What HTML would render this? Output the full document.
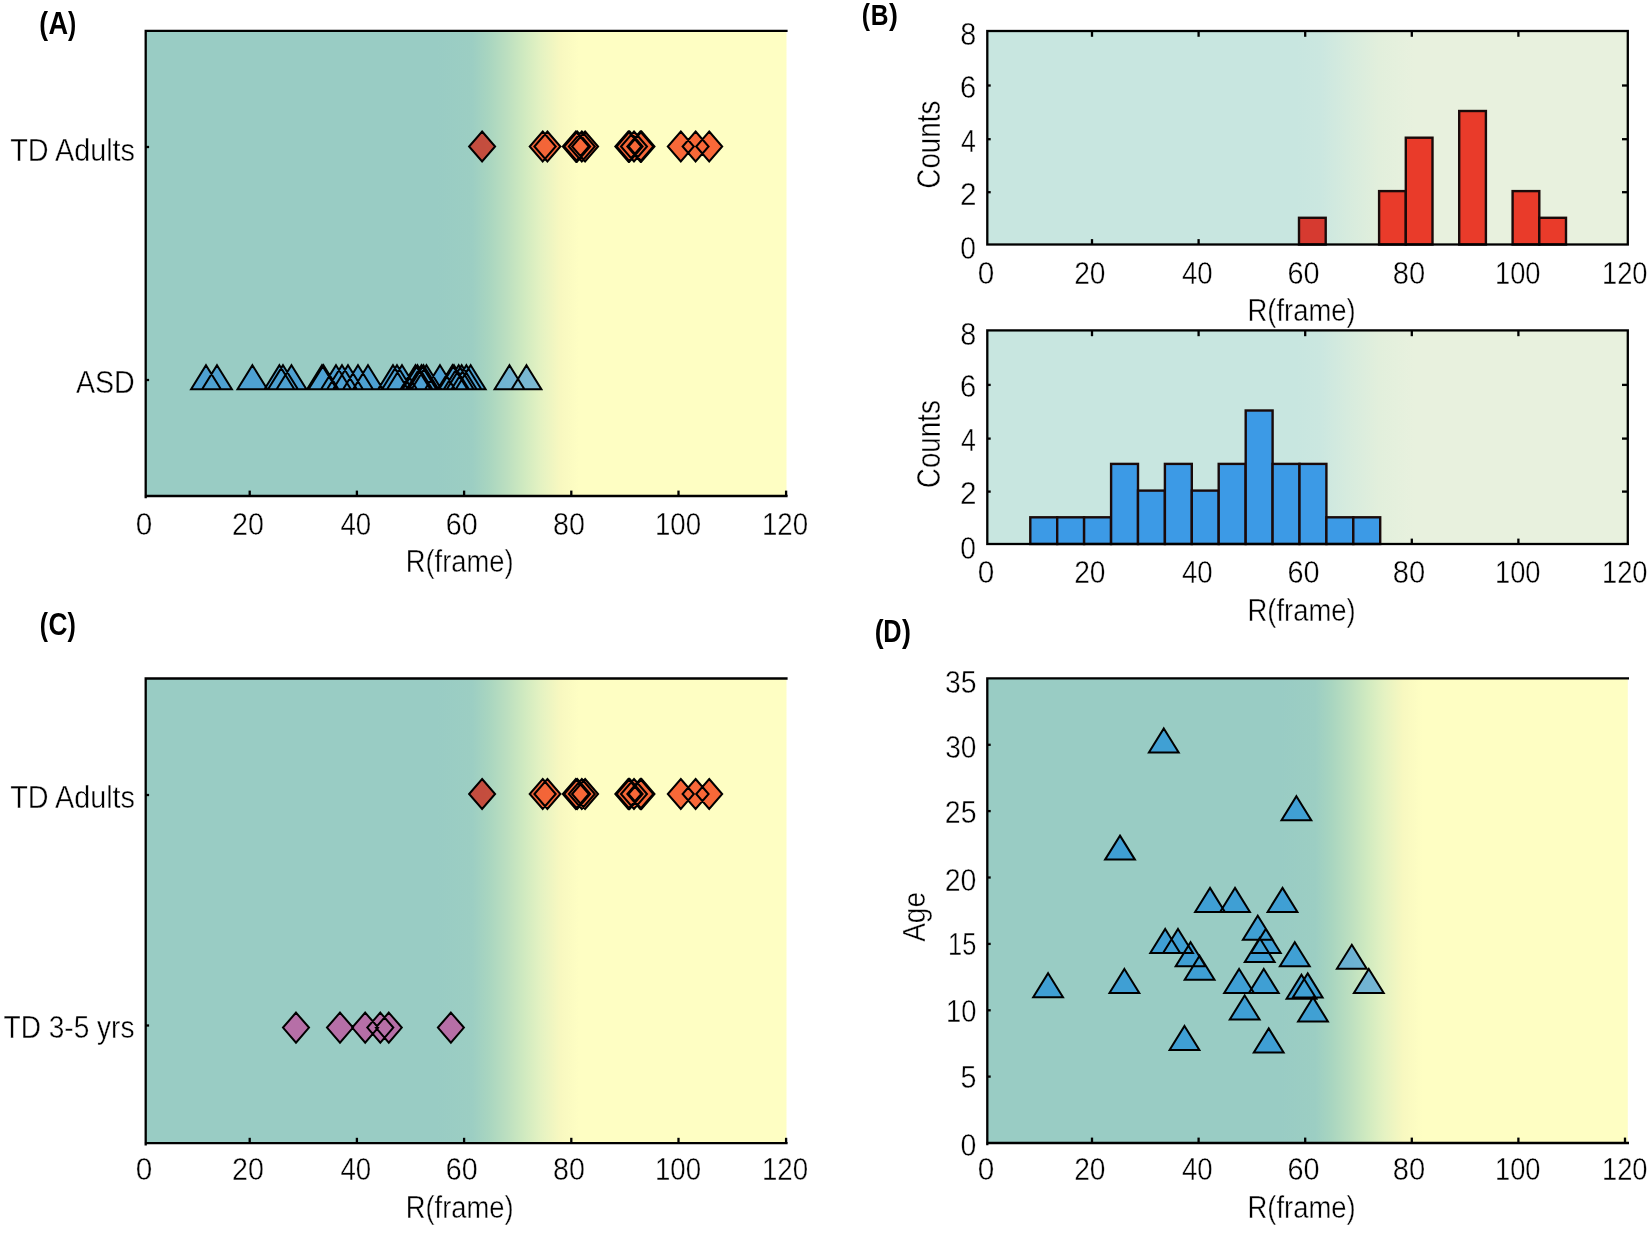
<!DOCTYPE html>
<html lang="en"><head><meta charset="utf-8"><title>Figure</title>
<style>
html,body{margin:0;padding:0;background:#fff;}
body{width:1650px;height:1233px;overflow:hidden;}
svg{display:block;filter:blur(0.4px);}
</style></head>
<body>
<svg width="1650" height="1233" viewBox="0 0 1650 1233">
<rect width="1650" height="1233" fill="#fff"/>
<defs>
<linearGradient id="gA" x1="0" y1="0" x2="1" y2="0"><stop offset="0.4551" stop-color="#99ccc4"/><stop offset="0.5094" stop-color="#9ccec3"/><stop offset="0.5345" stop-color="#a8d5c0"/><stop offset="0.5638" stop-color="#bcdfc0"/><stop offset="0.5906" stop-color="#d0eac0"/><stop offset="0.6165" stop-color="#e4f2c2"/><stop offset="0.6474" stop-color="#f8f8c0"/><stop offset="0.6767" stop-color="#fefec3"/></linearGradient>
<linearGradient id="gB" x1="0" y1="0" x2="1" y2="0"><stop offset="0.4824" stop-color="#c8e6e0"/><stop offset="0.5201" stop-color="#cbe7e0"/><stop offset="0.5619" stop-color="#d6ebde"/><stop offset="0.6121" stop-color="#e2efdc"/><stop offset="0.6665" stop-color="#e8f1de"/></linearGradient>
<linearGradient id="gD" x1="0" y1="0" x2="1" y2="0"><stop offset="0.4573" stop-color="#99ccc4"/><stop offset="0.5117" stop-color="#9ccec3"/><stop offset="0.5368" stop-color="#a8d5c0"/><stop offset="0.5661" stop-color="#bcdfc0"/><stop offset="0.5929" stop-color="#d0eac0"/><stop offset="0.6188" stop-color="#e4f2c2"/><stop offset="0.6498" stop-color="#f8f8c0"/><stop offset="0.6791" stop-color="#fefec3"/></linearGradient>
</defs>
<rect x="145.7" y="30.8" width="640.8" height="465.2" fill="url(#gA)"/>
<g stroke="none" opacity="0.78"><path d="M482.1,131.5 L495.1,146.5 L482.1,161.5 L469.1,146.5 Z" fill="#cd2819"/><path d="M542.7,131.5 L555.7,146.5 L542.7,161.5 L529.7,146.5 Z" fill="#f73e12"/><path d="M547.4,131.5 L560.4,146.5 L547.4,161.5 L534.4,146.5 Z" fill="#f73e12"/><path d="M575.8,131.5 L588.8,146.5 L575.8,161.5 L562.8,146.5 Z" fill="#f73e12"/><path d="M577.2,131.5 L590.2,146.5 L577.2,161.5 L564.2,146.5 Z" fill="#f73e12"/><path d="M581.8,131.5 L594.8,146.5 L581.8,161.5 L568.8,146.5 Z" fill="#f73e12"/><path d="M585.1,131.5 L598.1,146.5 L585.1,161.5 L572.1,146.5 Z" fill="#f73e12"/><path d="M628.3,131.5 L641.3,146.5 L628.3,161.5 L615.3,146.5 Z" fill="#f73e12"/><path d="M629.6,131.5 L642.6,146.5 L629.6,161.5 L616.6,146.5 Z" fill="#f73e12"/><path d="M634.0,131.5 L647.0,146.5 L634.0,161.5 L621.0,146.5 Z" fill="#f73e12"/><path d="M640.3,131.5 L653.3,146.5 L640.3,161.5 L627.3,146.5 Z" fill="#f73e12"/><path d="M641.5,131.5 L654.5,146.5 L641.5,161.5 L628.5,146.5 Z" fill="#f73e12"/><path d="M680.8,131.5 L693.8,146.5 L680.8,161.5 L667.8,146.5 Z" fill="#f73e12"/><path d="M695.6,131.5 L708.6,146.5 L695.6,161.5 L682.6,146.5 Z" fill="#f73e12"/><path d="M709.2,131.5 L722.2,146.5 L709.2,161.5 L696.2,146.5 Z" fill="#f73e12"/></g><path d="M482.1,131.5 L495.1,146.5 L482.1,161.5 L469.1,146.5 Z M542.7,131.5 L555.7,146.5 L542.7,161.5 L529.7,146.5 Z M547.4,131.5 L560.4,146.5 L547.4,161.5 L534.4,146.5 Z M575.8,131.5 L588.8,146.5 L575.8,161.5 L562.8,146.5 Z M577.2,131.5 L590.2,146.5 L577.2,161.5 L564.2,146.5 Z M581.8,131.5 L594.8,146.5 L581.8,161.5 L568.8,146.5 Z M585.1,131.5 L598.1,146.5 L585.1,161.5 L572.1,146.5 Z M628.3,131.5 L641.3,146.5 L628.3,161.5 L615.3,146.5 Z M629.6,131.5 L642.6,146.5 L629.6,161.5 L616.6,146.5 Z M634.0,131.5 L647.0,146.5 L634.0,161.5 L621.0,146.5 Z M640.3,131.5 L653.3,146.5 L640.3,161.5 L627.3,146.5 Z M641.5,131.5 L654.5,146.5 L641.5,161.5 L628.5,146.5 Z M680.8,131.5 L693.8,146.5 L680.8,161.5 L667.8,146.5 Z M695.6,131.5 L708.6,146.5 L695.6,161.5 L682.6,146.5 Z M709.2,131.5 L722.2,146.5 L709.2,161.5 L696.2,146.5 Z" fill="none" stroke="#000" stroke-width="2.0" stroke-linejoin="miter"/>
<g stroke="none" opacity="0.66"><path d="M206.0,365.2 L220.9,389.2 L191.1,389.2 Z" fill="#288cda"/><path d="M217.0,365.2 L231.9,389.2 L202.1,389.2 Z" fill="#288cda"/><path d="M252.4,365.2 L267.3,389.2 L237.5,389.2 Z" fill="#288cda"/><path d="M279.4,365.2 L294.3,389.2 L264.5,389.2 Z" fill="#288cda"/><path d="M283.0,365.2 L297.9,389.2 L268.1,389.2 Z" fill="#288cda"/><path d="M291.5,365.2 L306.4,389.2 L276.6,389.2 Z" fill="#288cda"/><path d="M322.0,365.2 L336.9,389.2 L307.1,389.2 Z" fill="#288cda"/><path d="M323.5,365.2 L338.4,389.2 L308.6,389.2 Z" fill="#288cda"/><path d="M336.0,365.2 L350.9,389.2 L321.1,389.2 Z" fill="#288cda"/><path d="M342.0,365.2 L356.9,389.2 L327.1,389.2 Z" fill="#288cda"/><path d="M348.0,365.2 L362.9,389.2 L333.1,389.2 Z" fill="#288cda"/><path d="M358.0,365.2 L372.9,389.2 L343.1,389.2 Z" fill="#288cda"/><path d="M368.0,365.2 L382.9,389.2 L353.1,389.2 Z" fill="#288cda"/><path d="M393.0,365.2 L407.9,389.2 L378.1,389.2 Z" fill="#288cda"/><path d="M397.0,365.2 L411.9,389.2 L382.1,389.2 Z" fill="#288cda"/><path d="M402.0,365.2 L416.9,389.2 L387.1,389.2 Z" fill="#288cda"/><path d="M415.5,365.2 L430.4,389.2 L400.6,389.2 Z" fill="#288cda"/><path d="M417.5,365.2 L432.4,389.2 L402.6,389.2 Z" fill="#288cda"/><path d="M421.5,365.2 L436.4,389.2 L406.6,389.2 Z" fill="#288cda"/><path d="M423.5,365.2 L438.4,389.2 L408.6,389.2 Z" fill="#288cda"/><path d="M426.5,365.2 L441.4,389.2 L411.6,389.2 Z" fill="#288cda"/><path d="M440.0,365.2 L454.9,389.2 L425.1,389.2 Z" fill="#288cda"/><path d="M452.5,365.2 L467.4,389.2 L437.6,389.2 Z" fill="#288cda"/><path d="M454.0,365.2 L468.9,389.2 L439.1,389.2 Z" fill="#288cda"/><path d="M458.7,365.2 L473.6,389.2 L443.8,389.2 Z" fill="#288cda"/><path d="M461.7,365.2 L476.6,389.2 L446.8,389.2 Z" fill="#288cda"/><path d="M466.4,365.2 L481.3,389.2 L451.5,389.2 Z" fill="#288cda"/><path d="M470.7,365.2 L485.6,389.2 L455.8,389.2 Z" fill="#288cda"/><path d="M509.5,365.2 L524.4,389.2 L494.6,389.2 Z" fill="#4b9eda"/><path d="M526.5,365.2 L541.4,389.2 L511.6,389.2 Z" fill="#4b9eda"/></g><path d="M206.0,365.2 L220.9,389.2 L191.1,389.2 Z M217.0,365.2 L231.9,389.2 L202.1,389.2 Z M252.4,365.2 L267.3,389.2 L237.5,389.2 Z M279.4,365.2 L294.3,389.2 L264.5,389.2 Z M283.0,365.2 L297.9,389.2 L268.1,389.2 Z M291.5,365.2 L306.4,389.2 L276.6,389.2 Z M322.0,365.2 L336.9,389.2 L307.1,389.2 Z M323.5,365.2 L338.4,389.2 L308.6,389.2 Z M336.0,365.2 L350.9,389.2 L321.1,389.2 Z M342.0,365.2 L356.9,389.2 L327.1,389.2 Z M348.0,365.2 L362.9,389.2 L333.1,389.2 Z M358.0,365.2 L372.9,389.2 L343.1,389.2 Z M368.0,365.2 L382.9,389.2 L353.1,389.2 Z M393.0,365.2 L407.9,389.2 L378.1,389.2 Z M397.0,365.2 L411.9,389.2 L382.1,389.2 Z M402.0,365.2 L416.9,389.2 L387.1,389.2 Z M415.5,365.2 L430.4,389.2 L400.6,389.2 Z M417.5,365.2 L432.4,389.2 L402.6,389.2 Z M421.5,365.2 L436.4,389.2 L406.6,389.2 Z M423.5,365.2 L438.4,389.2 L408.6,389.2 Z M426.5,365.2 L441.4,389.2 L411.6,389.2 Z M440.0,365.2 L454.9,389.2 L425.1,389.2 Z M452.5,365.2 L467.4,389.2 L437.6,389.2 Z M454.0,365.2 L468.9,389.2 L439.1,389.2 Z M458.7,365.2 L473.6,389.2 L443.8,389.2 Z M461.7,365.2 L476.6,389.2 L446.8,389.2 Z M466.4,365.2 L481.3,389.2 L451.5,389.2 Z M470.7,365.2 L485.6,389.2 L455.8,389.2 Z M509.5,365.2 L524.4,389.2 L494.6,389.2 Z M526.5,365.2 L541.4,389.2 L511.6,389.2 Z" fill="none" stroke="#000" stroke-width="2.0" stroke-linejoin="miter"/>
<g stroke="#000" stroke-width="2.3" fill="none">
<path d="M787.6,30.8 H145.7 V498.2 M144.5,496.0 H787.6" fill="none"/>
<line x1="249.7" y1="496.0" x2="249.7" y2="490.6"/><line x1="356.9" y1="496.0" x2="356.9" y2="490.6"/><line x1="464.1" y1="496.0" x2="464.1" y2="490.6"/><line x1="571.3" y1="496.0" x2="571.3" y2="490.6"/><line x1="678.5" y1="496.0" x2="678.5" y2="490.6"/><line x1="786.1" y1="496.0" x2="786.1" y2="490.6"/>
<line x1="145.7" y1="147.0" x2="149.1" y2="147.0"/><line x1="145.7" y1="380.0" x2="149.1" y2="380.0"/>
</g>
<rect x="145.7" y="678.5" width="640.8" height="464.7" fill="url(#gA)"/>
<g stroke="none" opacity="0.78"><path d="M482.1,779.0 L495.1,794.0 L482.1,809.0 L469.1,794.0 Z" fill="#cd2819"/><path d="M542.7,779.0 L555.7,794.0 L542.7,809.0 L529.7,794.0 Z" fill="#f73e12"/><path d="M547.4,779.0 L560.4,794.0 L547.4,809.0 L534.4,794.0 Z" fill="#f73e12"/><path d="M575.8,779.0 L588.8,794.0 L575.8,809.0 L562.8,794.0 Z" fill="#f73e12"/><path d="M577.2,779.0 L590.2,794.0 L577.2,809.0 L564.2,794.0 Z" fill="#f73e12"/><path d="M581.8,779.0 L594.8,794.0 L581.8,809.0 L568.8,794.0 Z" fill="#f73e12"/><path d="M585.1,779.0 L598.1,794.0 L585.1,809.0 L572.1,794.0 Z" fill="#f73e12"/><path d="M628.3,779.0 L641.3,794.0 L628.3,809.0 L615.3,794.0 Z" fill="#f73e12"/><path d="M629.6,779.0 L642.6,794.0 L629.6,809.0 L616.6,794.0 Z" fill="#f73e12"/><path d="M634.0,779.0 L647.0,794.0 L634.0,809.0 L621.0,794.0 Z" fill="#f73e12"/><path d="M640.3,779.0 L653.3,794.0 L640.3,809.0 L627.3,794.0 Z" fill="#f73e12"/><path d="M641.5,779.0 L654.5,794.0 L641.5,809.0 L628.5,794.0 Z" fill="#f73e12"/><path d="M680.8,779.0 L693.8,794.0 L680.8,809.0 L667.8,794.0 Z" fill="#f73e12"/><path d="M695.6,779.0 L708.6,794.0 L695.6,809.0 L682.6,794.0 Z" fill="#f73e12"/><path d="M709.2,779.0 L722.2,794.0 L709.2,809.0 L696.2,794.0 Z" fill="#f73e12"/></g><path d="M482.1,779.0 L495.1,794.0 L482.1,809.0 L469.1,794.0 Z M542.7,779.0 L555.7,794.0 L542.7,809.0 L529.7,794.0 Z M547.4,779.0 L560.4,794.0 L547.4,809.0 L534.4,794.0 Z M575.8,779.0 L588.8,794.0 L575.8,809.0 L562.8,794.0 Z M577.2,779.0 L590.2,794.0 L577.2,809.0 L564.2,794.0 Z M581.8,779.0 L594.8,794.0 L581.8,809.0 L568.8,794.0 Z M585.1,779.0 L598.1,794.0 L585.1,809.0 L572.1,794.0 Z M628.3,779.0 L641.3,794.0 L628.3,809.0 L615.3,794.0 Z M629.6,779.0 L642.6,794.0 L629.6,809.0 L616.6,794.0 Z M634.0,779.0 L647.0,794.0 L634.0,809.0 L621.0,794.0 Z M640.3,779.0 L653.3,794.0 L640.3,809.0 L627.3,794.0 Z M641.5,779.0 L654.5,794.0 L641.5,809.0 L628.5,794.0 Z M680.8,779.0 L693.8,794.0 L680.8,809.0 L667.8,794.0 Z M695.6,779.0 L708.6,794.0 L695.6,809.0 L682.6,794.0 Z M709.2,779.0 L722.2,794.0 L709.2,809.0 L696.2,794.0 Z" fill="none" stroke="#000" stroke-width="2.0" stroke-linejoin="miter"/>
<g stroke="none" opacity="0.72"><path d="M296.0,1012.6 L309.0,1027.6 L296.0,1042.6 L283.0,1027.6 Z" fill="#c24c9c"/><path d="M340.0,1012.6 L353.0,1027.6 L340.0,1042.6 L327.0,1027.6 Z" fill="#c24c9c"/><path d="M365.2,1012.6 L378.2,1027.6 L365.2,1042.6 L352.2,1027.6 Z" fill="#c24c9c"/><path d="M380.3,1012.6 L393.3,1027.6 L380.3,1042.6 L367.3,1027.6 Z" fill="#c24c9c"/><path d="M388.8,1012.6 L401.8,1027.6 L388.8,1042.6 L375.8,1027.6 Z" fill="#c24c9c"/><path d="M450.9,1012.6 L463.9,1027.6 L450.9,1042.6 L437.9,1027.6 Z" fill="#c24c9c"/></g><path d="M296.0,1012.6 L309.0,1027.6 L296.0,1042.6 L283.0,1027.6 Z M340.0,1012.6 L353.0,1027.6 L340.0,1042.6 L327.0,1027.6 Z M365.2,1012.6 L378.2,1027.6 L365.2,1042.6 L352.2,1027.6 Z M380.3,1012.6 L393.3,1027.6 L380.3,1042.6 L367.3,1027.6 Z M388.8,1012.6 L401.8,1027.6 L388.8,1042.6 L375.8,1027.6 Z M450.9,1012.6 L463.9,1027.6 L450.9,1042.6 L437.9,1027.6 Z" fill="none" stroke="#000" stroke-width="2.0" stroke-linejoin="miter"/>
<g stroke="#000" stroke-width="2.3" fill="none">
<path d="M787.6,678.5 H145.7 V1145.4 M144.5,1143.2 H787.6" fill="none"/>
<line x1="249.7" y1="1143.2" x2="249.7" y2="1137.8"/><line x1="356.9" y1="1143.2" x2="356.9" y2="1137.8"/><line x1="464.1" y1="1143.2" x2="464.1" y2="1137.8"/><line x1="571.3" y1="1143.2" x2="571.3" y2="1137.8"/><line x1="678.5" y1="1143.2" x2="678.5" y2="1137.8"/><line x1="786.1" y1="1143.2" x2="786.1" y2="1137.8"/>
<line x1="145.7" y1="795.0" x2="149.1" y2="795.0"/><line x1="145.7" y1="1025.5" x2="149.1" y2="1025.5"/>
</g>
<rect x="987.3" y="31.0" width="640.5" height="213.5" fill="url(#gB)"/>
<g stroke="#000" stroke-width="2.3" fill="none">
<line x1="1092.0" y1="244.5" x2="1092.0" y2="239.1"/><line x1="1092.0" y1="31.0" x2="1092.0" y2="36.8"/><line x1="1198.6" y1="244.5" x2="1198.6" y2="239.1"/><line x1="1198.6" y1="31.0" x2="1198.6" y2="36.8"/><line x1="1305.2" y1="244.5" x2="1305.2" y2="239.1"/><line x1="1305.2" y1="31.0" x2="1305.2" y2="36.8"/><line x1="1411.8" y1="244.5" x2="1411.8" y2="239.1"/><line x1="1411.8" y1="31.0" x2="1411.8" y2="36.8"/><line x1="1518.4" y1="244.5" x2="1518.4" y2="239.1"/><line x1="1518.4" y1="31.0" x2="1518.4" y2="36.8"/>
<line x1="987.3" y1="192.2" x2="990.7" y2="192.2"/><line x1="1627.8" y1="192.2" x2="1622.0" y2="192.2"/><line x1="987.3" y1="139.2" x2="990.7" y2="139.2"/><line x1="1627.8" y1="139.2" x2="1622.0" y2="139.2"/><line x1="987.3" y1="85.5" x2="990.7" y2="85.5"/><line x1="1627.8" y1="85.5" x2="1622.0" y2="85.5"/>
</g>
<g stroke="#1a0a0a" stroke-width="2.4">
<rect x="1299.0" y="217.8" width="26.7" height="26.7" fill="#d63a30"/><rect x="1379.1" y="191.1" width="26.7" height="53.4" fill="#e93b2a"/><rect x="1405.8" y="137.7" width="26.7" height="106.8" fill="#e93b2a"/><rect x="1459.2" y="111.0" width="26.7" height="133.5" fill="#e93b2a"/><rect x="1512.6" y="191.1" width="26.7" height="53.4" fill="#e93b2a"/><rect x="1539.3" y="217.8" width="26.7" height="26.7" fill="#e93b2a"/>
</g>
<g stroke="#000" stroke-width="2.3" fill="none">
<rect x="987.3" y="31.0" width="640.5" height="213.5" fill="none"/>
</g>
<rect x="987.3" y="330.4" width="640.5" height="213.6" fill="url(#gB)"/>
<g stroke="#000" stroke-width="2.3" fill="none">
<line x1="1092.0" y1="544.0" x2="1092.0" y2="538.6"/><line x1="1092.0" y1="330.4" x2="1092.0" y2="336.2"/><line x1="1198.6" y1="544.0" x2="1198.6" y2="538.6"/><line x1="1198.6" y1="330.4" x2="1198.6" y2="336.2"/><line x1="1305.2" y1="544.0" x2="1305.2" y2="538.6"/><line x1="1305.2" y1="330.4" x2="1305.2" y2="336.2"/><line x1="1411.8" y1="544.0" x2="1411.8" y2="538.6"/><line x1="1411.8" y1="330.4" x2="1411.8" y2="336.2"/><line x1="1518.4" y1="544.0" x2="1518.4" y2="538.6"/><line x1="1518.4" y1="330.4" x2="1518.4" y2="336.2"/>
<line x1="987.3" y1="491.6" x2="990.7" y2="491.6"/><line x1="1627.8" y1="491.6" x2="1622.0" y2="491.6"/><line x1="987.3" y1="438.6" x2="990.7" y2="438.6"/><line x1="1627.8" y1="438.6" x2="1622.0" y2="438.6"/><line x1="987.3" y1="384.9" x2="990.7" y2="384.9"/><line x1="1627.8" y1="384.9" x2="1622.0" y2="384.9"/>
</g>
<g stroke="#1a0a0a" stroke-width="2.4">
<rect x="1030.3" y="517.3" width="26.9" height="26.7" fill="#3c9ae6"/><rect x="1057.2" y="517.3" width="26.9" height="26.7" fill="#3c9ae6"/><rect x="1084.1" y="517.3" width="26.9" height="26.7" fill="#3c9ae6"/><rect x="1111.1" y="463.9" width="26.9" height="80.1" fill="#3c9ae6"/><rect x="1138.0" y="490.6" width="26.9" height="53.4" fill="#3c9ae6"/><rect x="1164.9" y="463.9" width="26.9" height="80.1" fill="#3c9ae6"/><rect x="1191.8" y="490.6" width="26.9" height="53.4" fill="#3c9ae6"/><rect x="1218.7" y="463.9" width="26.9" height="80.1" fill="#3c9ae6"/><rect x="1245.7" y="410.5" width="26.9" height="133.5" fill="#3c9ae6"/><rect x="1272.6" y="463.9" width="26.9" height="80.1" fill="#3c9ae6"/><rect x="1299.5" y="463.9" width="26.9" height="80.1" fill="#3c9ae6"/><rect x="1326.4" y="517.3" width="26.9" height="26.7" fill="#3c9ae6"/><rect x="1353.3" y="517.3" width="26.9" height="26.7" fill="#3c9ae6"/>
</g>
<g stroke="#000" stroke-width="2.3" fill="none">
<rect x="987.3" y="330.4" width="640.5" height="213.6" fill="none"/>
</g>
<rect x="987.3" y="678.4" width="640.5" height="464.6" fill="url(#gD)"/>
<g stroke="none" opacity="0.7"><path d="M1163.8,728.5 L1178.7,752.5 L1148.9,752.5 Z" fill="#1a8ddb"/><path d="M1296.4,796.2 L1311.3,820.2 L1281.5,820.2 Z" fill="#1a8ddb"/><path d="M1120.0,835.6 L1134.9,859.6 L1105.1,859.6 Z" fill="#1a8ddb"/><path d="M1210.0,887.9 L1224.9,911.9 L1195.1,911.9 Z" fill="#1a8ddb"/><path d="M1235.0,887.9 L1249.9,911.9 L1220.1,911.9 Z" fill="#1a8ddb"/><path d="M1282.5,887.9 L1297.4,911.9 L1267.6,911.9 Z" fill="#1a8ddb"/><path d="M1257.8,915.7 L1272.7,939.7 L1242.9,939.7 Z" fill="#1a8ddb"/><path d="M1165.2,929.0 L1180.1,953.0 L1150.3,953.0 Z" fill="#1a8ddb"/><path d="M1178.0,929.0 L1192.9,953.0 L1163.1,953.0 Z" fill="#1a8ddb"/><path d="M1265.8,929.0 L1280.7,953.0 L1250.9,953.0 Z" fill="#1a8ddb"/><path d="M1259.7,938.0 L1274.6,962.0 L1244.8,962.0 Z" fill="#1a8ddb"/><path d="M1294.8,942.2 L1309.7,966.2 L1279.9,966.2 Z" fill="#1a8ddb"/><path d="M1190.6,942.2 L1205.5,966.2 L1175.7,966.2 Z" fill="#1a8ddb"/><path d="M1351.8,944.8 L1366.7,968.8 L1336.9,968.8 Z" fill="#4b9eda"/><path d="M1199.6,955.7 L1214.5,979.7 L1184.7,979.7 Z" fill="#1a8ddb"/><path d="M1048.1,973.2 L1063.0,997.2 L1033.2,997.2 Z" fill="#1a8ddb"/><path d="M1124.4,969.0 L1139.3,993.0 L1109.5,993.0 Z" fill="#1a8ddb"/><path d="M1239.1,969.0 L1254.0,993.0 L1224.2,993.0 Z" fill="#1a8ddb"/><path d="M1263.8,969.0 L1278.7,993.0 L1248.9,993.0 Z" fill="#1a8ddb"/><path d="M1368.8,969.0 L1383.7,993.0 L1353.9,993.0 Z" fill="#4b9eda"/><path d="M1307.7,973.4 L1322.6,997.4 L1292.8,997.4 Z" fill="#1a8ddb"/><path d="M1301.5,974.7 L1316.4,998.7 L1286.6,998.7 Z" fill="#1a8ddb"/><path d="M1244.7,995.5 L1259.6,1019.5 L1229.8,1019.5 Z" fill="#1a8ddb"/><path d="M1313.0,997.4 L1327.9,1021.4 L1298.1,1021.4 Z" fill="#1a8ddb"/><path d="M1184.5,1026.0 L1199.4,1050.0 L1169.6,1050.0 Z" fill="#1a8ddb"/><path d="M1268.7,1028.4 L1283.6,1052.4 L1253.8,1052.4 Z" fill="#1a8ddb"/></g><path d="M1163.8,728.5 L1178.7,752.5 L1148.9,752.5 Z M1296.4,796.2 L1311.3,820.2 L1281.5,820.2 Z M1120.0,835.6 L1134.9,859.6 L1105.1,859.6 Z M1210.0,887.9 L1224.9,911.9 L1195.1,911.9 Z M1235.0,887.9 L1249.9,911.9 L1220.1,911.9 Z M1282.5,887.9 L1297.4,911.9 L1267.6,911.9 Z M1257.8,915.7 L1272.7,939.7 L1242.9,939.7 Z M1165.2,929.0 L1180.1,953.0 L1150.3,953.0 Z M1178.0,929.0 L1192.9,953.0 L1163.1,953.0 Z M1265.8,929.0 L1280.7,953.0 L1250.9,953.0 Z M1259.7,938.0 L1274.6,962.0 L1244.8,962.0 Z M1294.8,942.2 L1309.7,966.2 L1279.9,966.2 Z M1190.6,942.2 L1205.5,966.2 L1175.7,966.2 Z M1351.8,944.8 L1366.7,968.8 L1336.9,968.8 Z M1199.6,955.7 L1214.5,979.7 L1184.7,979.7 Z M1048.1,973.2 L1063.0,997.2 L1033.2,997.2 Z M1124.4,969.0 L1139.3,993.0 L1109.5,993.0 Z M1239.1,969.0 L1254.0,993.0 L1224.2,993.0 Z M1263.8,969.0 L1278.7,993.0 L1248.9,993.0 Z M1368.8,969.0 L1383.7,993.0 L1353.9,993.0 Z M1307.7,973.4 L1322.6,997.4 L1292.8,997.4 Z M1301.5,974.7 L1316.4,998.7 L1286.6,998.7 Z M1244.7,995.5 L1259.6,1019.5 L1229.8,1019.5 Z M1313.0,997.4 L1327.9,1021.4 L1298.1,1021.4 Z M1184.5,1026.0 L1199.4,1050.0 L1169.6,1050.0 Z M1268.7,1028.4 L1283.6,1052.4 L1253.8,1052.4 Z" fill="none" stroke="#000" stroke-width="2.0" stroke-linejoin="miter"/>
<g stroke="#000" stroke-width="2.3" fill="none">
<path d="M1629.0,678.4 H987.3 V1145.2 M986.1,1143.0 H1629.0" fill="none"/>
<line x1="1092.0" y1="1143.0" x2="1092.0" y2="1137.6"/><line x1="1198.6" y1="1143.0" x2="1198.6" y2="1137.6"/><line x1="1305.2" y1="1143.0" x2="1305.2" y2="1137.6"/><line x1="1411.8" y1="1143.0" x2="1411.8" y2="1137.6"/><line x1="1518.4" y1="1143.0" x2="1518.4" y2="1137.6"/><line x1="1625.0" y1="1143.0" x2="1625.0" y2="1137.6"/>
<line x1="987.3" y1="1076.6" x2="990.7" y2="1076.6"/><line x1="987.3" y1="1010.3" x2="990.7" y2="1010.3"/><line x1="987.3" y1="943.9" x2="990.7" y2="943.9"/><line x1="987.3" y1="877.5" x2="990.7" y2="877.5"/><line x1="987.3" y1="811.1" x2="990.7" y2="811.1"/><line x1="987.3" y1="744.8" x2="990.7" y2="744.8"/>
</g>
<g font-family="'Liberation Sans', Arial, Helvetica, sans-serif" fill="#000" stroke="#fff" stroke-width="0.4">
<text x="135.81" y="534.50" font-size="30.82" textLength="16.54" lengthAdjust="spacingAndGlyphs">0</text><text x="232.07" y="534.50" font-size="30.82" textLength="31.87" lengthAdjust="spacingAndGlyphs">20</text><text x="340.38" y="534.50" font-size="30.82" textLength="30.72" lengthAdjust="spacingAndGlyphs">40</text><text x="445.77" y="534.50" font-size="30.82" textLength="31.87" lengthAdjust="spacingAndGlyphs">60</text><text x="552.98" y="534.50" font-size="30.82" textLength="31.86" lengthAdjust="spacingAndGlyphs">80</text><text x="654.93" y="534.50" font-size="30.82" textLength="46.14" lengthAdjust="spacingAndGlyphs">100</text><text x="761.93" y="534.50" font-size="30.82" textLength="46.14" lengthAdjust="spacingAndGlyphs">120</text><text x="405.74" y="572.00" font-size="31.27" textLength="107.88" lengthAdjust="spacingAndGlyphs">R(frame)</text>
<text x="135.81" y="1180.00" font-size="30.82" textLength="16.54" lengthAdjust="spacingAndGlyphs">0</text><text x="232.07" y="1180.00" font-size="30.82" textLength="31.87" lengthAdjust="spacingAndGlyphs">20</text><text x="340.38" y="1180.00" font-size="30.82" textLength="30.72" lengthAdjust="spacingAndGlyphs">40</text><text x="445.77" y="1180.00" font-size="30.82" textLength="31.87" lengthAdjust="spacingAndGlyphs">60</text><text x="552.98" y="1180.00" font-size="30.82" textLength="31.86" lengthAdjust="spacingAndGlyphs">80</text><text x="654.93" y="1180.00" font-size="30.82" textLength="46.14" lengthAdjust="spacingAndGlyphs">100</text><text x="761.93" y="1180.00" font-size="30.82" textLength="46.14" lengthAdjust="spacingAndGlyphs">120</text><text x="405.74" y="1217.50" font-size="31.27" textLength="107.88" lengthAdjust="spacingAndGlyphs">R(frame)</text>
<text x="977.81" y="283.50" font-size="30.82" textLength="16.54" lengthAdjust="spacingAndGlyphs">0</text><text x="1074.19" y="283.50" font-size="30.82" textLength="31.33" lengthAdjust="spacingAndGlyphs">20</text><text x="1181.88" y="283.50" font-size="30.82" textLength="30.72" lengthAdjust="spacingAndGlyphs">40</text><text x="1287.56" y="283.50" font-size="30.82" textLength="32.09" lengthAdjust="spacingAndGlyphs">60</text><text x="1392.76" y="283.50" font-size="30.82" textLength="32.40" lengthAdjust="spacingAndGlyphs">80</text><text x="1494.95" y="283.50" font-size="30.82" textLength="45.60" lengthAdjust="spacingAndGlyphs">100</text><text x="1601.95" y="283.50" font-size="30.82" textLength="45.60" lengthAdjust="spacingAndGlyphs">120</text><text x="1247.44" y="321.00" font-size="31.27" textLength="108.19" lengthAdjust="spacingAndGlyphs">R(frame)</text>
<text x="977.81" y="583.00" font-size="30.82" textLength="16.54" lengthAdjust="spacingAndGlyphs">0</text><text x="1074.19" y="583.00" font-size="30.82" textLength="31.33" lengthAdjust="spacingAndGlyphs">20</text><text x="1181.88" y="583.00" font-size="30.82" textLength="30.72" lengthAdjust="spacingAndGlyphs">40</text><text x="1287.56" y="583.00" font-size="30.82" textLength="32.09" lengthAdjust="spacingAndGlyphs">60</text><text x="1392.76" y="583.00" font-size="30.82" textLength="32.40" lengthAdjust="spacingAndGlyphs">80</text><text x="1494.95" y="583.00" font-size="30.82" textLength="45.60" lengthAdjust="spacingAndGlyphs">100</text><text x="1601.95" y="583.00" font-size="30.82" textLength="45.60" lengthAdjust="spacingAndGlyphs">120</text><text x="1247.44" y="620.50" font-size="31.27" textLength="108.19" lengthAdjust="spacingAndGlyphs">R(frame)</text>
<text x="977.81" y="1180.00" font-size="30.82" textLength="16.54" lengthAdjust="spacingAndGlyphs">0</text><text x="1074.19" y="1180.00" font-size="30.82" textLength="31.33" lengthAdjust="spacingAndGlyphs">20</text><text x="1181.88" y="1180.00" font-size="30.82" textLength="30.72" lengthAdjust="spacingAndGlyphs">40</text><text x="1287.56" y="1180.00" font-size="30.82" textLength="32.09" lengthAdjust="spacingAndGlyphs">60</text><text x="1392.76" y="1180.00" font-size="30.82" textLength="32.40" lengthAdjust="spacingAndGlyphs">80</text><text x="1494.95" y="1180.00" font-size="30.82" textLength="45.60" lengthAdjust="spacingAndGlyphs">100</text><text x="1601.95" y="1180.00" font-size="30.82" textLength="45.60" lengthAdjust="spacingAndGlyphs">120</text><text x="1247.44" y="1217.50" font-size="31.27" textLength="108.19" lengthAdjust="spacingAndGlyphs">R(frame)</text>
<text x="10.15" y="160.80" font-size="32.00" textLength="124.86" lengthAdjust="spacingAndGlyphs">TD Adults</text>
<text x="75.93" y="392.50" font-size="31.27" textLength="58.89" lengthAdjust="spacingAndGlyphs">ASD</text>
<text x="10.15" y="808.00" font-size="31.71" textLength="124.86" lengthAdjust="spacingAndGlyphs">TD Adults</text>
<text x="3.57" y="1038.00" font-size="31.71" textLength="130.90" lengthAdjust="spacingAndGlyphs">TD 3-5 yrs</text>
<text y="33.70" font-size="30.84" font-weight="bold" stroke="none" ><tspan x="39.27" textLength="8.84" lengthAdjust="spacingAndGlyphs">(</tspan><tspan x="48.62" textLength="19.62" lengthAdjust="spacingAndGlyphs">A</tspan><tspan x="68.04" textLength="8.21" lengthAdjust="spacingAndGlyphs">)</tspan></text>
<text y="25.00" font-size="29.38" font-weight="bold" stroke="none" ><tspan x="861.76" textLength="8.25" lengthAdjust="spacingAndGlyphs">(</tspan><tspan x="870.84" textLength="17.76" lengthAdjust="spacingAndGlyphs">B</tspan><tspan x="888.93" textLength="8.92" lengthAdjust="spacingAndGlyphs">)</tspan></text>
<text y="635.20" font-size="30.84" font-weight="bold" stroke="none" ><tspan x="39.76" textLength="8.25" lengthAdjust="spacingAndGlyphs">(</tspan><tspan x="48.45" textLength="18.96" lengthAdjust="spacingAndGlyphs">C</tspan><tspan x="67.44" textLength="8.33" lengthAdjust="spacingAndGlyphs">)</tspan></text>
<text y="641.50" font-size="30.55" font-weight="bold" stroke="none" ><tspan x="874.67" textLength="8.84" lengthAdjust="spacingAndGlyphs">(</tspan><tspan x="883.29" textLength="18.28" lengthAdjust="spacingAndGlyphs">D</tspan><tspan x="901.93" textLength="8.92" lengthAdjust="spacingAndGlyphs">)</tspan></text>
<text x="960.28" y="45.00" font-size="30.82" textLength="15.98" lengthAdjust="spacingAndGlyphs">8</text>
<text x="960.04" y="97.50" font-size="31.54" textLength="16.23" lengthAdjust="spacingAndGlyphs">6</text>
<text x="960.90" y="151.50" font-size="30.82" textLength="14.87" lengthAdjust="spacingAndGlyphs">4</text>
<text x="960.02" y="204.50" font-size="31.11" textLength="16.50" lengthAdjust="spacingAndGlyphs">2</text>
<text x="960.37" y="259.00" font-size="30.82" textLength="15.72" lengthAdjust="spacingAndGlyphs">0</text>
<text transform="translate(940.20,187.30) rotate(-90)" x="-1.39" y="0" font-size="32.29" textLength="88.09" lengthAdjust="spacingAndGlyphs">Counts</text>
<text x="960.28" y="344.50" font-size="30.82" textLength="15.98" lengthAdjust="spacingAndGlyphs">8</text>
<text x="960.04" y="397.00" font-size="31.54" textLength="16.23" lengthAdjust="spacingAndGlyphs">6</text>
<text x="960.90" y="451.00" font-size="30.82" textLength="14.87" lengthAdjust="spacingAndGlyphs">4</text>
<text x="960.02" y="504.00" font-size="31.11" textLength="16.50" lengthAdjust="spacingAndGlyphs">2</text>
<text x="960.37" y="558.50" font-size="30.82" textLength="15.72" lengthAdjust="spacingAndGlyphs">0</text>
<text transform="translate(940.20,486.80) rotate(-90)" x="-1.39" y="0" font-size="32.29" textLength="88.09" lengthAdjust="spacingAndGlyphs">Counts</text>
<text x="944.94" y="692.50" font-size="31.54" textLength="31.57" lengthAdjust="spacingAndGlyphs">35</text>
<text x="945.15" y="758.00" font-size="30.82" textLength="31.27" lengthAdjust="spacingAndGlyphs">30</text>
<text x="944.77" y="823.10" font-size="30.68" textLength="31.73" lengthAdjust="spacingAndGlyphs">25</text>
<text x="944.78" y="891.20" font-size="30.68" textLength="31.66" lengthAdjust="spacingAndGlyphs">20</text>
<text x="948.09" y="954.50" font-size="30.82" textLength="28.28" lengthAdjust="spacingAndGlyphs">15</text>
<text x="945.95" y="1022.30" font-size="30.68" textLength="30.44" lengthAdjust="spacingAndGlyphs">10</text>
<text x="960.55" y="1088.40" font-size="30.68" textLength="15.92" lengthAdjust="spacingAndGlyphs">5</text>
<text x="960.56" y="1155.60" font-size="30.68" textLength="15.84" lengthAdjust="spacingAndGlyphs">0</text>
<text transform="translate(924.80,941.80) rotate(-90)" x="-0.07" y="0" font-size="31.13" textLength="49.91" lengthAdjust="spacingAndGlyphs">Age</text>
</g>
</svg>
</body></html>
